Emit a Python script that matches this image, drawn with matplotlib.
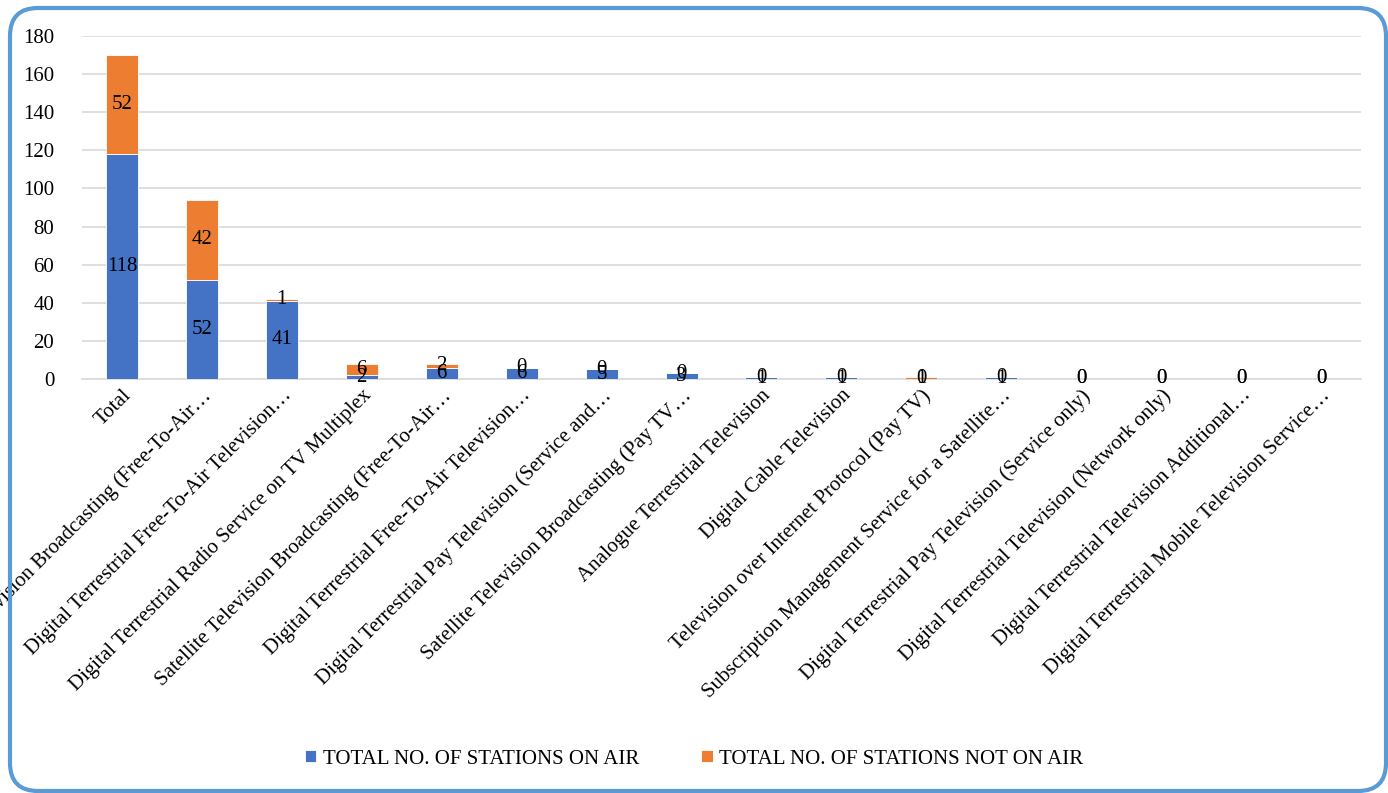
import matplotlib
matplotlib.use("Agg")
import matplotlib.pyplot as plt
from matplotlib.patches import FancyBboxPatch

categories = [
    "Total",
    "Television Broadcasting (Free-To-Air…",
    "Digital Terrestrial Free-To-Air Television…",
    "Digital Terrestrial Radio Service on TV Multiplex",
    "Satellite Television Broadcasting (Free-To-Air…",
    "Digital Terrestrial Free-To-Air Television…",
    "Digital Terrestrial Pay Television (Service and…",
    "Satellite Television Broadcasting (Pay TV…",
    "Analogue Terrestrial Television",
    "Digital Cable Television",
    "Television over Internet Protocol (Pay TV)",
    "Subscription Management Service for a Satellite…",
    "Digital Terrestrial Pay Television (Service only)",
    "Digital Terrestrial Television (Network only)",
    "Digital Terrestrial Television Additional…",
    "Digital Terrestrial Mobile Television Service…",
]
on_air = [118, 52, 41, 2, 6, 6, 5, 3, 1, 1, 0, 1, 0, 0, 0, 0]
not_on_air = [52, 42, 1, 6, 2, 0, 0, 0, 0, 0, 1, 0, 0, 0, 0, 0]
series_names = ["TOTAL NO. OF STATIONS ON AIR", "TOTAL NO. OF STATIONS NOT ON AIR"]
yticks = [0, 20, 40, 60, 80, 100, 120, 140, 160, 180]

plt.rcParams['font.family'] = ['Liberation Serif', 'DejaVu Serif']

W, H = 1388, 793
fig = plt.figure(figsize=(W / 100, H / 100), dpi=100)
ax = fig.add_axes([82 / W, 1 - 379 / H, (1361 - 82) / W, (379 - 36) / H])

x = list(range(len(categories)))
w = 0.4
b1 = ax.bar(x, on_air, width=w, color='#4472C4', edgecolor='white', linewidth=0.6, label=series_names[0], zorder=3)
b2 = ax.bar(x, not_on_air, width=w, bottom=on_air, color='#ED7D31', edgecolor='white', linewidth=0.6, label=series_names[1], zorder=3)

for i in x:
    ax.text(i, on_air[i] / 2, str(on_air[i]), ha='center', va='center', fontsize=15, zorder=5)
    ax.text(i, on_air[i] + not_on_air[i] / 2, str(not_on_air[i]), ha='center', va='center', fontsize=15, zorder=5)

ax.set_xlim(-0.5, len(categories) - 0.5)
ax.set_ylim(0, 180)
ax.set_yticks(yticks)
ax.tick_params(axis='y', length=0, labelsize=15, pad=20)
ax.tick_params(axis='x', length=0, labelsize=15, pad=5)
ax.set_xticks(x)
ax.set_xticklabels(categories, rotation=45, ha='right', rotation_mode='anchor')
ax.grid(axis='y', color='#d9d9d9', linewidth=1.2, zorder=0)
for s in ['top', 'right', 'left']:
    ax.spines[s].set_visible(False)
ax.spines['bottom'].set_color('#d9d9d9')
ax.spines['bottom'].set_linewidth(1.2)

fig.legend(handles=[b1, b2], labels=series_names, loc='center', bbox_to_anchor=(0.5, 1 - 759 / H),
           ncol=2, frameon=False, fontsize=15, handlelength=0.55, handleheight=0.55,
           handletextpad=0.3, columnspacing=3.0)

x0, y0, x1, y1 = 10, 8, 1386, 791
border = FancyBboxPatch((x0 / W, 1 - y1 / H), (x1 - x0) / W, (y1 - y0) / H,
                        boxstyle="round,pad=0,rounding_size=%f" % (28 / W),
                        transform=fig.transFigure, fill=False, edgecolor='#5B9BD5', linewidth=3,
                        mutation_aspect=W / H)
fig.patches.append(border)

fig.savefig('out.png', dpi=100)
